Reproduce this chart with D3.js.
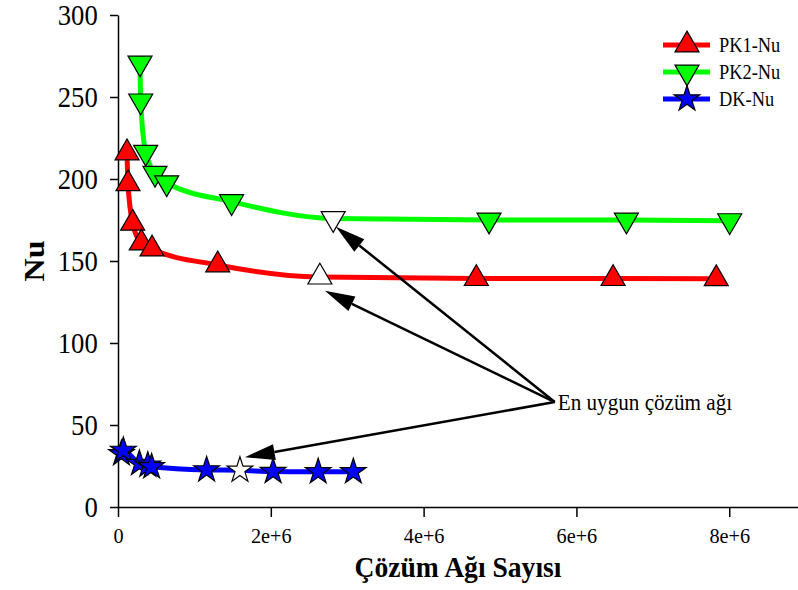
<!DOCTYPE html>
<html>
<head>
<meta charset="utf-8">
<script src="https://cdn.jsdelivr.net/npm/d3@7"></script>
<style>
  html, body { margin: 0; padding: 0; background: #fff; }
  svg { display: block; }
</style>
</head>
<body>
<svg id="chart" width="798" height="590"></svg>
<script>
// Mesh count (millions of cells) and Nusselt number for each configuration
const pk1Mesh = [0.118, 0.131, 0.192, 0.305, 0.445, 1.305, 2.642, 4.69, 6.48, 7.83];
const pk1Nu   = [215.9, 197.1, 173.0, 161.0, 157.3, 147.6, 140.2, 139.3, 139.3, 139.2];
const pk2Mesh = [0.288, 0.297, 0.362, 0.484, 0.637, 1.487, 2.816, 4.856, 6.654, 8.006];
const pk2Nu   = [270.7, 247.6, 216.3, 203.5, 197.7, 186.2, 175.9, 175.0, 175.0, 174.6];
const dkMesh  = [0.045, 0.07, 0.28, 0.39, 0.44, 1.16, 1.596, 2.03, 2.62, 3.08];
const dkNu    = [32.5, 34.5, 26.5, 25.5, 24.5, 22.6, 22.4, 21.6, 21.5, 21.5];

// Index of the selected (optimal) mesh in each series
const pk1Best = 6, pk2Best = 6, dkBest = 6;

const seriesNames  = ["PK1-Nu", "PK2-Nu", "DK-Nu"];
const seriesColors = ["#ff0000", "#00ff00", "#0000ff"];
const seriesShapes = ["up", "down", "star"];

const xTickValues = [0, 2e6, 4e6, 6e6, 8e6];
const xTickLabels = ["0", "2e+6", "4e+6", "6e+6", "8e+6"];
const yTickValues = [0, 50, 100, 150, 200, 250, 300];

const xTitle = "Çözüm Ağı Sayısı";
const yTitle = "Nu";
const noteText = "En uygun çözüm ağı";
// Annotation anchor and arrow targets, in data units (mesh count, Nu)
const noteAnchor = [5.716e6, 64];
const noteTargets = [[2.852e6, 170.9], [2.708e6, 131.9], [1.661e6, 30.3]];

const series = [
  { mesh: pk1Mesh, nu: pk1Nu, best: pk1Best },
  { mesh: pk2Mesh, nu: pk2Nu, best: pk2Best },
  { mesh: dkMesh,  nu: dkNu,  best: dkBest }
].map((s, i) => ({
  name: seriesNames[i], color: seriesColors[i], shape: seriesShapes[i], best: s.best,
  points: s.mesh.map((m, j) => ({ x: m * 1e6, y: s.nu[j] }))
}));

const SERIF = '"Liberation Serif", "Times New Roman", "DejaVu Serif", serif';
const svg = d3.select("#chart");
const squeeze = 0.92; // serif glyphs are drawn slightly narrow

const x = d3.scaleLinear().domain([0, 8.9e6]).range([118, 798]);
const y = d3.scaleLinear().domain([0, 300]).range([507, 15]);

// Marker shapes
function markerPath(shape) {
  if (shape === "up") {
    const s = 24, h = s * Math.sqrt(3) / 2;
    return `M0,${-2 * h / 3}L${s / 2},${h / 3}L${-s / 2},${h / 3}Z`;
  }
  if (shape === "down") {
    const s = 24, h = s * Math.sqrt(3) / 2;
    return `M0,${2 * h / 3}L${s / 2},${-h / 3}L${-s / 2},${-h / 3}Z`;
  }
  const R = 13.5, r = R * 0.382;
  const pts = [];
  for (let k = 0; k < 10; k++) {
    const a = -Math.PI / 2 + k * Math.PI / 5;
    const rad = k % 2 === 0 ? R : r;
    pts.push([rad * Math.cos(a), rad * Math.sin(a)]);
  }
  return "M" + pts.map(p => p[0].toFixed(2) + "," + p[1].toFixed(2)).join("L") + "Z";
}

// Axes
const yAxis = d3.axisLeft(y).tickValues(yTickValues).tickSize(8).tickSizeOuter(0).tickPadding(14);
const xAxis = d3.axisBottom(x).tickValues(xTickValues).tickSize(10).tickSizeOuter(0).tickPadding(10)
  .tickFormat((d, i) => xTickLabels[i]);

const gy = svg.append("g").attr("transform", `translate(${x(0)},0)`).call(yAxis);
gy.attr("font-family", null).attr("font-size", null);
gy.select(".domain").attr("stroke-width", 1.5);
gy.selectAll(".tick line").attr("stroke-width", 1.5);
gy.selectAll(".tick text")
  .style("font-family", SERIF).style("font-size", "29px")
  .attr("transform", `scale(${squeeze},1)`);

const gx = svg.append("g").attr("transform", `translate(0,${y(0)})`).call(xAxis);
gx.attr("font-family", null).attr("font-size", null);
gx.select(".domain").attr("stroke-width", 1.5);
gx.selectAll(".tick line").attr("stroke-width", 1.5);
gx.selectAll(".tick text")
  .style("font-family", SERIF).style("font-size", "22px")
  .attr("transform", `scale(${squeeze},1)`);

// Axis titles
svg.append("text")
  .attr("transform", `translate(${(x.range()[0] + x.range()[1]) / 2},577) scale(${squeeze},1)`)
  .attr("text-anchor", "middle")
  .style("font-family", SERIF).style("font-size", "30px").style("font-weight", "bold")
  .text(xTitle);
svg.append("text")
  .attr("transform", `translate(44,${(y.range()[0] + y.range()[1]) / 2}) scale(${squeeze},1) rotate(-90)`)
  .attr("text-anchor", "middle")
  .style("font-family", SERIF).style("font-size", "32px").style("font-weight", "bold")
  .text(yTitle);

// Curves and markers
const line = d3.line().x(d => x(d.x)).y(d => y(d.y)).curve(d3.curveMonotoneX);
series.forEach(s => {
  svg.append("path").datum(s.points)
    .attr("d", line).attr("fill", "none")
    .attr("stroke", s.color).attr("stroke-width", 5)
    .attr("stroke-linejoin", "round");
  svg.append("g").selectAll("path").data(s.points).join("path")
    .attr("transform", d => `translate(${x(d.x)},${y(d.y)})`)
    .attr("d", markerPath(s.shape))
    .attr("fill", (d, i) => i === s.best ? "#fff" : s.color)
    .attr("stroke", "#000").attr("stroke-width", 1.2).attr("stroke-linejoin", "miter");
});

// Annotation arrows
const ax0 = x(noteAnchor[0]), ay0 = y(noteAnchor[1]);
noteTargets.forEach(t => {
  const tx = x(t[0]), ty = y(t[1]);
  const ang = Math.atan2(ty - ay0, tx - ax0);
  const len = 30, half = 8;
  const bx = tx - len * Math.cos(ang), by = ty - len * Math.sin(ang);
  svg.append("line")
    .attr("x1", ax0).attr("y1", ay0).attr("x2", bx).attr("y2", by)
    .attr("stroke", "#000").attr("stroke-width", 2.5);
  const nx = -Math.sin(ang), ny = Math.cos(ang);
  svg.append("path")
    .attr("d", `M${tx},${ty}L${bx + half * nx},${by + half * ny}L${bx - half * nx},${by - half * ny}Z`)
    .attr("fill", "#000");
});
svg.append("text")
  .attr("transform", `translate(${ax0 + 3},${ay0 + 8}) scale(${squeeze},1)`)
  .style("font-family", SERIF).style("font-size", "23px")
  .text(noteText);

// Legend
const legend = svg.append("g").attr("transform", "translate(663,45)");
series.forEach((s, i) => {
  const g = legend.append("g").attr("transform", `translate(0,${i * 27})`);
  g.append("line").attr("x1", 0).attr("x2", 47).attr("y1", 0).attr("y2", 0)
    .attr("stroke", s.color).attr("stroke-width", 5);
  g.append("path").attr("transform", "translate(24,0)")
    .attr("d", markerPath(s.shape)).attr("fill", s.color)
    .attr("stroke", "#000").attr("stroke-width", 1.2);
  g.append("text").attr("transform", `translate(56,7) scale(${squeeze},1)`)
    .style("font-family", SERIF).style("font-size", "20px").text(s.name);
});
</script>
</body>
</html>
